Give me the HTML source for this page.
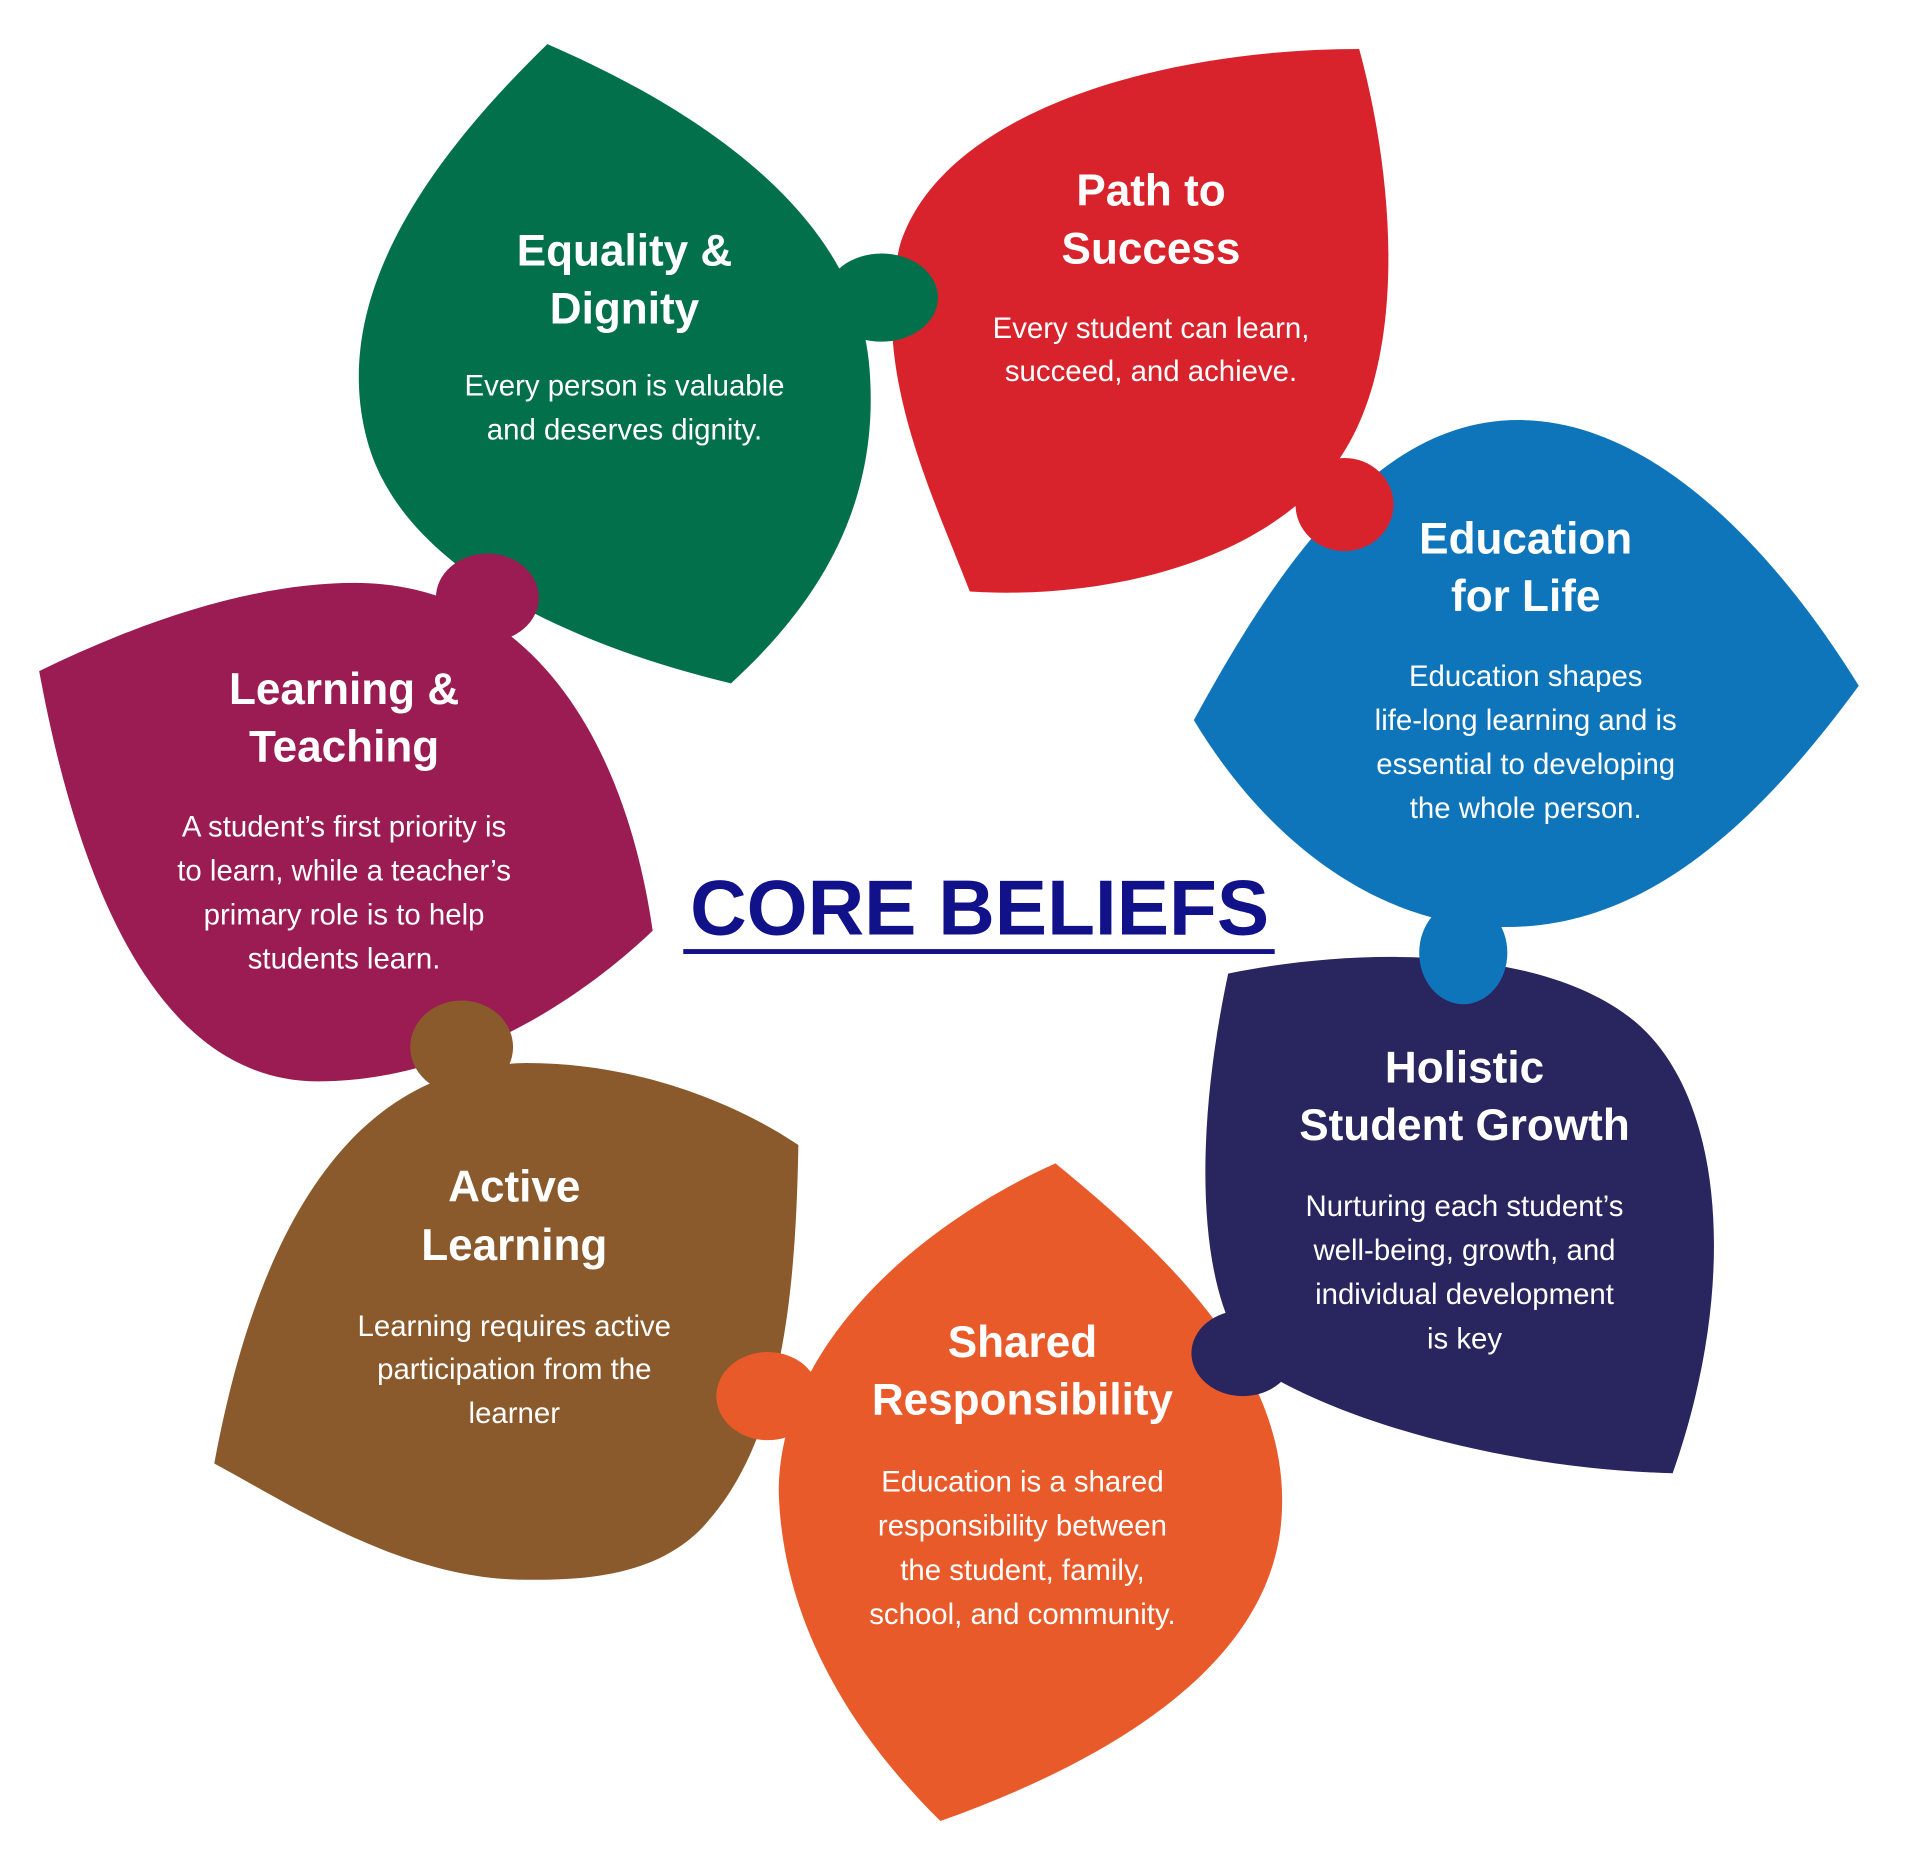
<!DOCTYPE html>
<html><head><meta charset="utf-8"><style>
html,body{margin:0;padding:0;background:#fff;}
svg{display:block;}
.t{font-family:"Liberation Sans Narrow","Liberation Sans",sans-serif;font-weight:bold;font-size:36px;fill:#fff;text-anchor:middle;}
.b{font-family:"Liberation Sans",sans-serif;font-size:24px;fill:#fff;text-anchor:middle;}
</style></head><body>
<svg width="1920" height="1859" viewBox="0 0 1568 1518" preserveAspectRatio="none" xmlns="http://www.w3.org/2000/svg">
<path d="M447,36 C560,85 700,170 710,300 C720,420 660,500 597,558 C480,530 330,470 300,360 C270,250 340,140 447,36 Z" fill="#03704c"/>
<path d="M1110,40 C1140,150 1150,300 1090,380 C1030,460 900,490 792,483 C760,400 710,300 735,200 C770,90 950,40 1110,40 Z" fill="#d8232d"/>
<path d="M975,588 C1050,450 1130,343 1240,343 C1350,343 1450,450 1518,560 C1430,680 1340,757 1230,757 C1120,757 1030,680 975,588 Z" fill="#0f75bb"/>
<path d="M1003,795 C1100,775 1250,770 1330,830 C1410,890 1420,1050 1366,1203 C1250,1200 1120,1170 1040,1125 C980,1090 970,950 1003,795 Z" fill="#29255f"/>
<path d="M862,950 C960,1030 1050,1120 1047,1230 C1045,1360 900,1440 768,1487 C700,1420 640,1330 636,1220 C635,1100 750,1000 862,950 Z" fill="#e95a2a"/>
<path d="M175,1195 C200,1060 260,870 430,868 C520,868 600,900 652,935 C650,1050 640,1170 580,1240 C540,1290 470,1290 430,1290 C330,1290 240,1230 175,1195 Z" fill="#8a5a2d"/>
<path d="M32,548 C120,505 210,476 290,476 C430,476 510,600 533,760 C470,820 370,883 260,883 C120,883 60,700 32,548 Z" fill="#9a1c52"/>
<ellipse cx="720" cy="243" rx="46" ry="36" fill="#03704c"/>
<ellipse cx="1098" cy="412" rx="40" ry="38" fill="#d8232d"/>
<ellipse cx="1195" cy="778" rx="36" ry="42" fill="#0f75bb"/>
<ellipse cx="1015" cy="1105" rx="42" ry="35" fill="#29255f"/>
<ellipse cx="627" cy="1140" rx="42" ry="36" fill="#e95a2a"/>
<ellipse cx="377" cy="855" rx="42" ry="38" fill="#8a5a2d"/>
<ellipse cx="398" cy="488" rx="42" ry="36" fill="#9a1c52"/>
<text class="t" x="510" y="217">Equality &amp;</text><text class="t" x="510" y="264">Dignity</text>
<text class="b" x="510" y="323">Every person is valuable</text><text class="b" x="510" y="359">and deserves dignity.</text>
<text class="t" x="940" y="168">Path to</text><text class="t" x="940" y="215">Success</text>
<text class="b" x="940" y="276">Every student can learn,</text><text class="b" x="940" y="311">succeed, and achieve.</text>
<text class="t" x="1246" y="452">Education</text><text class="t" x="1246" y="499">for Life</text>
<text class="b" x="1246" y="560">Education shapes</text><text class="b" x="1246" y="596">life-long learning and is</text>
<text class="b" x="1246" y="632">essential to developing</text><text class="b" x="1246" y="668">the whole person.</text>
<text class="t" x="1196" y="884">Holistic</text><text class="t" x="1196" y="931">Student Growth</text>
<text class="b" x="1196" y="993">Nurturing each student’s</text><text class="b" x="1196" y="1029">well-being, growth, and</text>
<text class="b" x="1196" y="1065">individual development</text><text class="b" x="1196" y="1101">is key</text>
<text class="t" x="835" y="1108">Shared</text><text class="t" x="835" y="1155">Responsibility</text>
<text class="b" x="835" y="1218">Education is a shared</text><text class="b" x="835" y="1254">responsibility between</text>
<text class="b" x="835" y="1290">the student, family,</text><text class="b" x="835" y="1326">school, and community.</text>
<text class="t" x="420" y="981">Active</text><text class="t" x="420" y="1029">Learning</text>
<text class="b" x="420" y="1091">Learning requires active</text><text class="b" x="420" y="1126">participation from the</text>
<text class="b" x="420" y="1162">learner</text>
<text class="t" x="281" y="575">Learning &amp;</text><text class="t" x="281" y="622">Teaching</text>
<text class="b" x="281" y="683">A student’s first priority is</text><text class="b" x="281" y="719">to learn, while a teacher’s</text>
<text class="b" x="281" y="755">primary role is to help</text><text class="b" x="281" y="791">students learn.</text>
<text x="800" y="763" text-anchor="middle" font-family="Liberation Sans,sans-serif" font-weight="bold" font-size="64" fill="#11118a">CORE BELIEFS</text>
<rect x="558" y="775" width="483" height="4" fill="#11118a"/>
</svg>
</body></html>
